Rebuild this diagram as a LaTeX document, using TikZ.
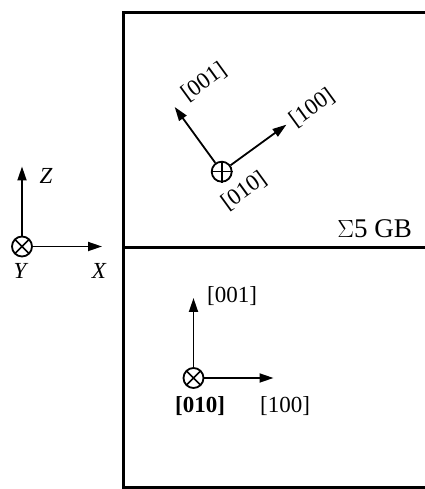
\documentclass[tikz,border=0pt]{standalone}
\usepackage{fontspec}
\setmainfont{Liberation Serif}
\usetikzlibrary{arrows.meta,calc}
\begin{document}
\begin{tikzpicture}[x=1pt,y=1pt,
  axis/.style={line width=1.8pt,-{Triangle[length=14pt,width=9pt]}},
  ring/.style={circle,draw,line width=1.8pt,minimum size=20pt,inner sep=0pt},
  lbl/.style={font=\fontsize{23}{26}\selectfont,inner sep=0pt},
  frame/.style={line width=3pt}]
\useasboundingbox (0,0) rectangle (424,489);
% frame
\draw[frame] (435,476) -- (123,476) -- (123,1) -- (435,1);
\coordinate (dl) at (123,241);
\coordinate (dr) at (430,241);
\draw[frame] (dl) -- (dr);
\node[anchor=base east,inner sep=0pt,font=\fontsize{27}{30}\selectfont] (gb) at (412,251) {$\Sigma$5 GB};
% left axes
\node[ring] (o) at (22,242.5) {};
\draw[line width=1.6pt] ($(o)+(45:10)$) -- ($(o)+(225:10)$) ($(o)+(135:10)$) -- ($(o)+(315:10)$);
\coordinate (zt) at (22,322.5);
\coordinate (xt) at (102,242.5);
\draw[axis] (o.north) -- (zt);
\draw[axis] (o.east) -- (xt);
\node[lbl,font=\fontsize{23}{26}\selectfont\itshape] (zl) at (46,313) {Z};
\node[lbl,font=\fontsize{23}{26}\selectfont\itshape] (yl) at (20,218) {Y};
\node[lbl,font=\fontsize{23}{26}\selectfont\itshape] (xl) at (99,218) {X};
% upper grain
\node[ring] (c) at (221.7,317.3) {};
\draw[line width=1.6pt] (c.north) -- (c.south) (c.east) -- (c.west);
\coordinate (ta) at ($(c)+(126:80)$);
\coordinate (tb) at ($(c)+(36:80)$);
\draw[axis] (c.126) -- (ta);
\draw[axis] (c.36) -- (tb);
\node[lbl,rotate=36] (ua) at (204,407) {[001]};
\node[lbl,rotate=36] (ub) at (312,381) {[100]};
\node[lbl,rotate=36] (uc) at (244,298) {[010]};
% lower grain
\node[ring] (d) at (193.5,111) {};
\draw[line width=1.6pt] ($(d)+(45:10)$) -- ($(d)+(225:10)$) ($(d)+(135:10)$) -- ($(d)+(315:10)$);
\coordinate (tc) at (193.5,191);
\coordinate (td) at (273.5,111);
\draw[axis] (d.north) -- (tc);
\draw[axis] (d.east) -- (td);
\node[lbl] (la) at (232,193) {[001]};
\node[lbl,font=\fontsize{23}{26}\selectfont\bfseries] (lb) at (200,83) {[010]};
\node[lbl] (lc) at (285,83) {[100]};
\end{tikzpicture}
\end{document}
